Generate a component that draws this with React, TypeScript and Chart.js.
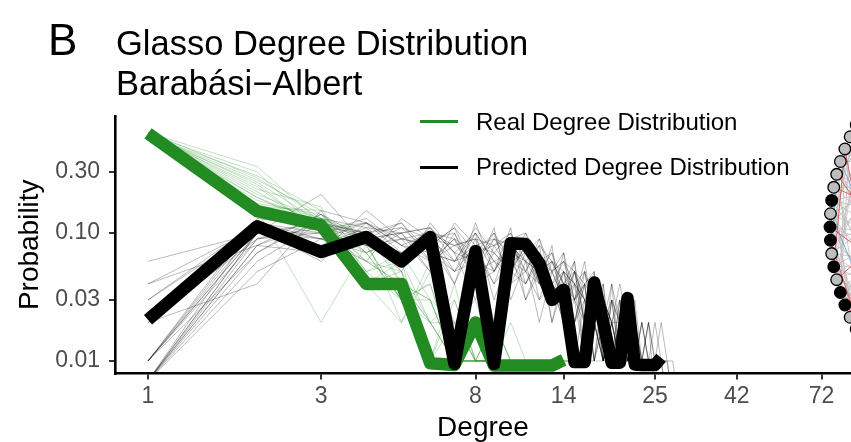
import React, { useEffect, useRef } from "react";
import { Chart, registerables } from "chart.js";

Chart.register(...registerables);

// ---------- data ----------
const DEGREES = [1, 2, 3, 4, 5, 6, 7, 8, 9, 10, 11, 12, 13, 14, 15, 16, 17, 18, 19, 20, 21, 22, 23, 24, 25, 26, 27, 28, 29, 30];

const X_TICKS = [1, 3, 8, 14, 25, 42, 72];
const Y_TICKS = [0.01, 0.03, 0.1, 0.3];
const Y_TICK_LABELS = ["0.01", "0.03", "0.10", "0.30"];

// thick "Real" line (degrees 1..14)
const REAL_PROB = [0.6, 0.148, 0.115, 0.04, 0.04, 0.0096, 0.0093, 0.02, 0.0092, 0.0092, 0.0092, 0.0092, 0.0092, 0.0102];
// thick "Predicted" line (degrees 1..26)
const PRED_PROB = [0.021, 0.113, 0.071, 0.093, 0.06, 0.093, 0.0095, 0.072, 0.0095, 0.083, 0.082, 0.058, 0.03, 0.036, 0.0098, 0.0098, 0.041, 0.02, 0.0097, 0.0097, 0.031, 0.0094, 0.0093, 0.0093, 0.0093, 0.0106];

// thin sampled predicted distributions (degrees 1..n)
const PRED_S1 = [0.01, 0.1, 0.12, 0.09, 0.07, 0.1, 0.05, 0.08, 0.04, 0.06, 0.05, 0.03, 0.04, 0.02, 0.03, 0.01, 0.02, 0.01, 0.01, 0.02, 0.01];
const PRED_S2 = [0.007, 0.09, 0.1, 0.13, 0.08, 0.06, 0.09, 0.04, 0.07, 0.05, 0.08, 0.04, 0.03, 0.05, 0.02, 0.04, 0.01, 0.03, 0.02, 0.01, 0.01, 0.02, 0.01];
const PRED_S3 = [0.03, 0.11, 0.08, 0.1, 0.12, 0.07, 0.05, 0.1, 0.06, 0.04, 0.07, 0.05, 0.06, 0.03, 0.04, 0.02, 0.03, 0.01, 0.02, 0.01];
const PRED_S4 = [0.007, 0.07, 0.13, 0.11, 0.06, 0.09, 0.08, 0.06, 0.09, 0.07, 0.03, 0.06, 0.04, 0.02, 0.05, 0.03, 0.01, 0.02, 0.03, 0.01, 0.02, 0.01, 0.01, 0.005];
const PRED_S5 = [0.01, 0.12, 0.09, 0.07, 0.1, 0.11, 0.06, 0.07, 0.08, 0.1, 0.04, 0.07, 0.02, 0.04, 0.03, 0.05, 0.02, 0.01, 0.04, 0.02, 0.01];
const PRED_S6 = [0.06, 0.1, 0.2, 0.08, 0.09, 0.05, 0.1, 0.05, 0.11, 0.03, 0.06, 0.05, 0.07, 0.04, 0.01, 0.03, 0.04, 0.02, 0.01, 0.03, 0.01, 0.02];
const PRED_S7 = [0.007, 0.05, 0.09, 0.12, 0.07, 0.08, 0.04, 0.12, 0.05, 0.08, 0.06, 0.02, 0.05, 0.06, 0.03, 0.02, 0.05, 0.01, 0.02, 0.01, 0.03, 0.01, 0.01, 0.02, 0.005];
const PRED_S8 = [0.02, 0.09, 0.11, 0.1, 0.05, 0.12, 0.07, 0.03, 0.08, 0.09, 0.05, 0.04, 0.03, 0.07, 0.02, 0.04, 0.01, 0.04, 0.01, 0.02, 0.02, 0.01];
const PRED_S9 = [0.007, 0.12, 0.07, 0.09, 0.1, 0.06, 0.08, 0.09, 0.02, 0.06, 0.1, 0.06, 0.05, 0.03, 0.06, 0.01, 0.03, 0.02, 0.01, 0.01, 0.02, 0.01, 0.02, 0.01, 0.01, 0.005];
const PRED_S10 = [0.04, 0.08, 0.14, 0.07, 0.09, 0.08, 0.05, 0.06, 0.1, 0.04, 0.05, 0.08, 0.02, 0.05, 0.04, 0.03, 0.02, 0.03, 0.01, 0.02];
const PRED_S11 = [0.01, 0.11, 0.06, 0.12, 0.08, 0.1, 0.09, 0.05, 0.06, 0.07, 0.09, 0.03, 0.06, 0.04, 0.02, 0.05, 0.02, 0.01, 0.03, 0.01, 0.01, 0.02, 0.01, 0.01];
const PRED_S12 = [0.007, 0.06, 0.12, 0.1, 0.11, 0.07, 0.06, 0.11, 0.07, 0.05, 0.04, 0.07, 0.05, 0.03, 0.05, 0.02, 0.04, 0.02, 0.01, 0.02, 0.01, 0.01, 0.005];
const PRED_S13 = [0.01, 0.1, 0.09, 0.06, 0.13, 0.09, 0.1, 0.04, 0.05, 0.08, 0.06, 0.05, 0.04, 0.05, 0.03, 0.04, 0.01, 0.02, 0.02, 0.01, 0.01, 0.02, 0.01, 0.01, 0.01, 0.01, 0.005];
const PRED_S14 = [0.03, 0.12, 0.1, 0.08, 0.06, 0.08, 0.11, 0.07, 0.04, 0.09, 0.07, 0.04, 0.08, 0.02, 0.04, 0.03, 0.02, 0.01, 0.02, 0.03, 0.01];
const PRED_S15 = [0.007, 0.08, 0.07, 0.15, 0.09, 0.1, 0.04, 0.09, 0.08, 0.05, 0.08, 0.06, 0.03, 0.04, 0.06, 0.02, 0.03, 0.04, 0.01, 0.01, 0.02, 0.01, 0.01];
const PRED_S16 = [0.01, 0.09, 0.13, 0.09, 0.07, 0.11, 0.07, 0.06, 0.05, 0.11, 0.03, 0.05, 0.06, 0.05, 0.02, 0.03, 0.02, 0.01, 0.03, 0.02, 0.01, 0.01, 0.01, 0.02, 0.01, 0.01, 0.01, 0.005];
const PRED_S17 = [0.007, 0.1, 0.08, 0.11, 0.1, 0.05, 0.12, 0.08, 0.09, 0.06, 0.07, 0.09, 0.04, 0.03, 0.03, 0.04, 0.05, 0.01, 0.02, 0.01, 0.02];
const PRED_S18 = [0.02, 0.04, 0.15, 0.12, 0.08, 0.07, 0.06, 0.1, 0.03, 0.07, 0.06, 0.04, 0.05, 0.06, 0.04, 0.01, 0.02, 0.03, 0.02, 0.01, 0.01, 0.01];
const PRED_S19 = [0.01, 0.13, 0.11, 0.09, 0.12, 0.06, 0.09, 0.07, 0.1, 0.06, 0.04, 0.06, 0.07, 0.03, 0.05, 0.04, 0.03, 0.02, 0.04, 0.01, 0.02, 0.01, 0.02, 0.01, 0.01, 0.02, 0.01, 0.005];
const PRED_S20 = [0.007, 0.08, 0.12, 0.1, 0.06, 0.1, 0.08, 0.09, 0.05, 0.09, 0.1, 0.05, 0.04, 0.06, 0.05, 0.03, 0.03, 0.02, 0.01, 0.03, 0.01, 0.01, 0.01, 0.01];
const PRED_S21 = [0.04, 0.11, 0.09, 0.08, 0.11, 0.09, 0.06, 0.08, 0.07, 0.1, 0.06, 0.08, 0.06, 0.04, 0.05, 0.02, 0.04, 0.03, 0.02, 0.02, 0.01, 0.03, 0.01, 0.01, 0.02, 0.01, 0.01, 0.01, 0.005];
const PRED_S22 = [0.007, 0.1, 0.1, 0.12, 0.09, 0.08, 0.11, 0.05, 0.09, 0.08, 0.05, 0.09, 0.05, 0.07, 0.03, 0.06, 0.02, 0.03, 0.02, 0.04, 0.02, 0.01, 0.02, 0.01];
const PRED_S23 = [0.01, 0.07, 0.14, 0.09, 0.1, 0.11, 0.07, 0.1, 0.06, 0.05, 0.09, 0.07, 0.03, 0.05, 0.04, 0.05, 0.03, 0.01, 0.03, 0.02, 0.02, 0.01, 0.01, 0.02, 0.01, 0.01, 0.005];

// thin sampled real distributions (degrees 1..n)
const REAL_S1 = [0.6, 0.2, 0.13, 0.1, 0.04, 0.03, 0.02, 0.01, 0.02, 0.01, 0.01];
const REAL_S2 = [0.58, 0.25, 0.12, 0.06, 0.05, 0.02, 0.01, 0.01, 0.01, 0.02, 0.01, 0.01];
const REAL_S3 = [0.61, 0.17, 0.14, 0.08, 0.03, 0.04, 0.01, 0.02, 0.01, 0.01, 0.01, 0.01, 0.01];
const REAL_S4 = [0.59, 0.3, 0.1, 0.05, 0.06, 0.01, 0.03, 0.01, 0.01, 0.01];
const REAL_S5 = [0.6, 0.22, 0.16, 0.04, 0.02, 0.05, 0.01, 0.01, 0.02, 0.01, 0.01, 0.01, 0.01, 0.01];
const REAL_S6 = [0.57, 0.19, 0.11, 0.12, 0.04, 0.02, 0.02, 0.03, 0.01, 0.01, 0.01];
const REAL_S7 = [0.62, 0.27, 0.13, 0.07, 0.03, 0.01, 0.04, 0.01, 0.01, 0.01, 0.01, 0.01, 0.01, 0.01, 0.01, 0.01];
const REAL_S8 = [0.6, 0.16, 0.15, 0.05, 0.07, 0.03, 0.01, 0.02, 0.01, 0.01, 0.01, 0.01];
const REAL_S9 = [0.59, 0.23, 0.1, 0.09, 0.02, 0.06, 0.02, 0.01, 0.01, 0.01];
const REAL_S10 = [0.61, 0.33, 0.12, 0.04, 0.05, 0.01, 0.01, 0.01, 0.01, 0.01, 0.01, 0.01, 0.01, 0.01, 0.01, 0.01, 0.01, 0.01];
const REAL_S11 = [0.58, 0.18, 0.13, 0.06, 0.04, 0.02, 0.03, 0.01, 0.01, 0.01, 0.01, 0.01, 0.01];
const REAL_S12 = [0.6, 0.21, 0.11, 0.07, 0.03, 0.03, 0.01, 0.01, 0.02, 0.01, 0.01];
const REAL_S13 = [0.6, 0.15, 0.02, 0.08, 0.03, 0.02, 0.01, 0.01, 0.01];
const REAL_S14 = [0.59, 0.26, 0.14, 0.05, 0.03, 0.04, 0.01, 0.01, 0.01, 0.01, 0.01, 0.01, 0.01, 0.01, 0.01];
const REAL_S15 = [0.61, 0.19, 0.12, 0.09, 0.05, 0.01, 0.02, 0.01, 0.01, 0.01, 0.01];
const REAL_S16 = [0.6, 0.24, 0.1, 0.06, 0.04, 0.03, 0.01, 0.02, 0.01, 0.01, 0.01, 0.01, 0.01, 0.01, 0.01, 0.01, 0.01];
const REAL_S17 = [0.58, 0.28, 0.15, 0.04, 0.06, 0.02, 0.01, 0.01, 0.01, 0.01];

const PRED_SAMPLES = [PRED_S1, PRED_S2, PRED_S3, PRED_S4, PRED_S5, PRED_S6, PRED_S7, PRED_S8, PRED_S9, PRED_S10, PRED_S11, PRED_S12, PRED_S13, PRED_S14, PRED_S15, PRED_S16, PRED_S17, PRED_S18, PRED_S19, PRED_S20, PRED_S21, PRED_S22, PRED_S23];
const REAL_SAMPLES = [REAL_S1, REAL_S2, REAL_S3, REAL_S4, REAL_S5, REAL_S6, REAL_S7, REAL_S8, REAL_S9, REAL_S10, REAL_S11, REAL_S12, REAL_S13, REAL_S14, REAL_S15, REAL_S16, REAL_S17];

const LEGEND_LABELS = ["Real Degree Distribution", "Predicted Degree Distribution"];

// network inset (circle layout, node offsets from the left-most node)
const NET_NODES = 100;
const NET_BLACK_NODES = [-2, 0, 1, 3, 5, 6, -12, -15, 10, 13, 18, 24, 30, -25, -33, 40];
const NET_EDGES_GRAY = [
  [-7, 20], [-7, 35], [-6, 10], [-6, -30], [-5, 25], [-5, 3], [-4, 40], [-4, -20], [-3, 15], [-3, 30],
  [-2, 45], [-2, 8], [-1, 22], [-1, -35], [0, 18], [0, 38], [1, 12], [1, -25], [2, 28], [2, 44],
  [3, -10], [3, 33], [4, 20], [4, -40], [5, 16], [5, 36], [6, 26], [6, -15], [7, 42], [7, 11],
  [-7, 5], [-6, 30], [-5, -45], [-3, -12], [-1, 6], [1, -8], [3, 48], [5, -28], [6, 14], [-4, 9],
  [2, -18], [0, -22], [4, 31], [-2, -42], [7, -33], [-8, 27], [8, -27], [-9, 19], [9, -19], [-10, 12],
  [10, -12], [-7, 47], [-6, -38], [-5, 13], [-4, 29], [-3, -47], [-2, 21], [-1, 37], [0, 9], [1, 27],
  [2, -31], [3, 17], [4, -9], [5, 43], [6, -21], [7, 24], [-7, -16], [-6, 23], [-5, -24], [-4, -3],
  [-3, 7], [-2, 34], [-1, -14], [0, 46], [1, -41], [2, 11], [3, -36], [4, 15], [5, -6], [6, 32],
];
const NET_EDGES_RED = [[-6, 12], [-4, 24], [-2, 2], [0, 30], [1, 9], [3, -6], [5, 22], [7, 20], [-3, 40], [4, -30], [-7, 14], [6, 19]];
const NET_EDGES_BLUE = [[-1, 14], [2, -4], [4, 6], [6, 40], [-5, 18]];

const FONT = "'Liberation Sans', Arial, Helvetica, sans-serif";
const GREEN = "#228B22";

const networkPlugin = {
  id: "networkInset",
  afterDraw(chart: any) {
    const { ctx, chartArea } = chart;
    const R = 212;
    const cx = chartArea.right + 191;
    const cy = 227;
    const r = 5.8;
    const pos = (k: number) => {
      const a = (k * 2 * Math.PI) / NET_NODES;
      return [cx - R * Math.cos(a), cy + R * Math.sin(a)];
    };
    ctx.save();
    const drawEdges = (edges: number[][], color: string, w: number) => {
      ctx.strokeStyle = color;
      ctx.lineWidth = w;
      for (const [a, b] of edges) {
        const [x1, y1] = pos(a);
        const [x2, y2] = pos(b);
        ctx.beginPath();
        ctx.moveTo(x1, y1);
        ctx.lineTo(x2, y2);
        ctx.stroke();
      }
    };
    drawEdges(NET_EDGES_GRAY, "rgba(190,190,190,0.9)", 0.9);
    drawEdges(NET_EDGES_BLUE, "rgba(110,160,215,0.9)", 1);
    drawEdges(NET_EDGES_RED, "rgba(215,80,80,0.9)", 1);
    for (let k = -50; k < 50; k++) {
      const [x, y] = pos(k);
      ctx.beginPath();
      ctx.arc(x, y, r, 0, Math.PI * 2);
      ctx.fillStyle = NET_BLACK_NODES.includes(k) ? "#000" : "#bebebe";
      ctx.fill();
      ctx.lineWidth = 1.3;
      ctx.strokeStyle = "#000";
      ctx.stroke();
    }
    ctx.restore();
  },
};

function toPoints(values: number[]) {
  return values.map((v, i) => ({ x: DEGREES[i], y: v }));
}

export default function App() {
  const canvasRef = useRef<HTMLCanvasElement | null>(null);

  useEffect(() => {
    const canvas = canvasRef.current;
    if (!canvas) return;
    const datasets: any[] = [];
    datasets.push({
      label: LEGEND_LABELS[1],
      data: toPoints(PRED_PROB),
      borderColor: "#000",
      borderWidth: 12.5,
      borderJoinStyle: "round",
      borderCapStyle: "butt",
      pointRadius: 0,
      order: 0,
      clip: 0,
    });
    datasets.push({
      label: LEGEND_LABELS[0],
      data: toPoints(REAL_PROB),
      borderColor: GREEN,
      borderWidth: 12.5,
      borderJoinStyle: "round",
      borderCapStyle: "butt",
      pointRadius: 0,
      order: 1,
      clip: 0,
    });
    REAL_SAMPLES.forEach((s, i) =>
      datasets.push({
        label: "real sample " + (i + 1),
        data: toPoints(s),
        borderColor: "rgba(34,139,34,0.3)",
        borderWidth: 0.9,
        pointRadius: 0,
        order: 2,
        clip: 0,
      })
    );
    PRED_SAMPLES.forEach((s, i) =>
      datasets.push({
        label: "predicted sample " + (i + 1),
        data: toPoints(s),
        borderColor: "rgba(0,0,0,0.3)",
        borderWidth: 0.9,
        pointRadius: 0,
        order: 3,
        clip: 0,
      })
    );

    const chart = new Chart(canvas, {
      type: "line",
      data: { datasets },
      options: {
        animation: false,
        responsive: false,
        devicePixelRatio: 1,
        layout: { padding: { top: 116, right: 0, bottom: 0, left: 0 } },
        plugins: {
          legend: { display: false },
          tooltip: { enabled: false },
          title: { display: false },
        },
        elements: { point: { radius: 0 }, line: { tension: 0 } },
        scales: {
          x: {
            type: "logarithmic",
            min: 0.811,
            max: 86.8,
            afterBuildTicks: (s: any) => {
              s.ticks = X_TICKS.map((v) => ({ value: v }));
            },
            afterFit: (s: any) => {
              s.height = 68.5;
            },
            ticks: {
              autoSkip: false,
              maxRotation: 0,
              color: "#4d4d4d",
              padding: 3,
              font: { family: FONT, size: 23 },
              callback: (v: any, i: number) => String(X_TICKS[i]),
            },
            grid: { display: true, drawOnChartArea: false, drawTicks: true, tickLength: 6, color: "#333", lineWidth: 2 },
            border: { display: true, color: "#000", width: 2.6 },
            title: {
              display: true,
              text: "Degree",
              color: "#000",
              font: { family: FONT, size: 28, lineHeight: 1 },
              padding: { top: 0, bottom: 0 },
            },
          },
          y: {
            type: "logarithmic",
            min: 0.00798,
            max: 0.821,
            afterBuildTicks: (s: any) => {
              s.ticks = Y_TICKS.map((v) => ({ value: v }));
            },
            afterFit: (s: any) => {
              s.width = 115;
            },
            ticks: {
              autoSkip: false,
              color: "#4d4d4d",
              padding: 9,
              font: { family: FONT, size: 23 },
              callback: (v: any, i: number) => Y_TICK_LABELS[i],
            },
            grid: { display: true, drawOnChartArea: false, drawTicks: true, tickLength: 6, color: "#333", lineWidth: 2 },
            border: { display: true, color: "#000", width: 2.6 },
            title: {
              display: true,
              text: "Probability",
              color: "#000",
              font: { family: FONT, size: 28, lineHeight: 1 },
              padding: { top: 16, bottom: 0 },
            },
          },
        },
      },
      plugins: [networkPlugin],
    } as any);

    return () => chart.destroy();
  }, []);

  const textBase: React.CSSProperties = {
    position: "absolute",
    fontFamily: FONT,
    color: "#000",
    whiteSpace: "nowrap",
    margin: 0,
  };

  return (
    <div style={{ position: "absolute", left: 0, top: 0, width: 851, height: 442, overflow: "hidden", background: "#fff" }}>
      <canvas ref={canvasRef} width={851} height={442} style={{ position: "absolute", left: 0, top: 0, width: 851, height: 442 }} />
      <div style={{ ...textBase, left: 48, top: 18, fontSize: 44, lineHeight: "44px" }}>B</div>
      <div style={{ ...textBase, left: 116, top: 23, fontSize: 34.5, lineHeight: "40px" }}>
        Glasso Degree Distribution
        <br />
        Barabási−Albert
      </div>
      <div style={{ position: "absolute", left: 420, top: 120, width: 38, height: 3, background: GREEN }} />
      <div style={{ ...textBase, left: 476, top: 110, fontSize: 24, lineHeight: "24px" }}>{LEGEND_LABELS[0]}</div>
      <div style={{ position: "absolute", left: 420, top: 166, width: 38, height: 3, background: "#000" }} />
      <div style={{ ...textBase, left: 476, top: 155, fontSize: 24, lineHeight: "24px" }}>{LEGEND_LABELS[1]}</div>
    </div>
  );
}
